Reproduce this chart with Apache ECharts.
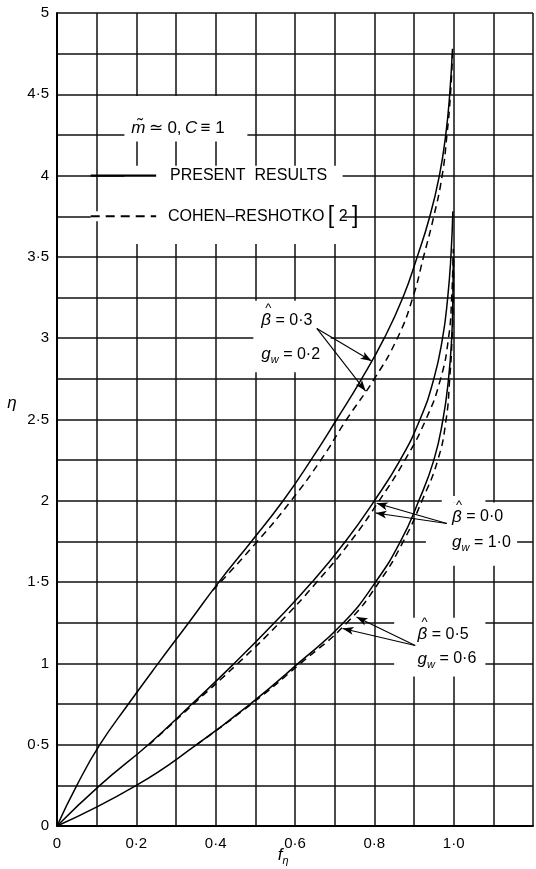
<!DOCTYPE html>
<html>
<head>
<meta charset="utf-8">
<script src="https://cdn.jsdelivr.net/npm/echarts@6/dist/echarts.min.js"></script>
<style>
html,body{margin:0;padding:0;background:#fff}
#chart{width:536px;height:869px}
</style>
</head>
<body>
<div id="chart"></div>
<script>
// velocity profiles f_eta(eta)
// beta=0.3, gw=0.2
var eta03 = [0, 0.25, 0.5, 0.75, 1.0, 1.25, 1.5, 1.75, 2.0, 2.25, 2.5, 2.75, 3.0, 3.25, 3.5, 3.75, 4.0, 4.25, 4.5, 4.78];
var present03 = [0, 0.05, 0.108, 0.18, 0.255, 0.332, 0.408, 0.49, 0.57, 0.64, 0.705, 0.768, 0.825, 0.872, 0.908, 0.94, 0.964, 0.98, 0.99, 0.997];
var etaCR03 = [1.45, 1.75, 2.0, 2.25, 2.5, 2.75, 3.0, 3.25, 3.5, 3.75, 4.0, 4.25, 4.5, 4.75];
var cohen03 = [0.393, 0.505, 0.59, 0.665, 0.73, 0.80, 0.858, 0.897, 0.924, 0.95, 0.971, 0.983, 0.992, 0.997];
// beta=0.0, gw=1.0
var eta00 = [0, 0.25, 0.5, 0.75, 1.0, 1.25, 1.5, 1.75, 2.0, 2.25, 2.5, 2.75, 3.0, 3.25, 3.5, 3.78];
var present00 = [0, 0.108, 0.23, 0.34, 0.447, 0.548, 0.643, 0.727, 0.80, 0.865, 0.915, 0.95, 0.972, 0.985, 0.993, 0.998];
var etaCR00 = [0.5, 0.75, 1.0, 1.25, 1.5, 1.75, 2.0, 2.25, 2.5, 2.75, 3.0, 3.25, 3.55];
var cohen00 = [0.232, 0.344, 0.456, 0.561, 0.655, 0.74, 0.812, 0.877, 0.93, 0.967, 0.987, 0.995, 0.999];
// beta=0.5, gw=0.6
var eta05 = [0, 0.25, 0.5, 0.75, 1.0, 1.25, 1.5, 1.75, 2.0, 2.25, 2.5, 2.75, 3.0, 3.25, 3.5];
var present05 = [0, 0.2, 0.352, 0.487, 0.608, 0.722, 0.803, 0.866, 0.912, 0.95, 0.973, 0.987, 0.995, 0.998, 0.999];
var etaCR05 = [0.5, 0.75, 1.0, 1.25, 1.5, 1.75, 2.0, 2.25, 2.5, 2.75, 3.0, 3.25, 3.5];
var cohen05 = [0.352, 0.49, 0.614, 0.731, 0.812, 0.873, 0.92, 0.96, 0.981, 0.99, 0.996, 0.999, 1.0];

var xTickLabels = ['0', '0·2', '0·4', '0·6', '0·8', '1·0'];
var yTickLabels = ['0', '0·5', '1', '1·5', '2', '2·5', '3', '3·5', '4', '4·5', '5'];

var FONT = '"Liberation Sans", Arial, sans-serif';

function pairs(f, eta) {
    return eta.map(function (e, i) { return [f[i], e]; });
}

var chart = echarts.init(document.getElementById('chart'));

function solid(name, data, extra) {
    var s = {
        type: 'line', name: name, data: data, showSymbol: false, smooth: 0.5,
        lineStyle: {color: '#000', width: 1.5, type: 'solid'}, z: 3
    };
    if (extra) s.markLine = extra;
    return s;
}
function dashed(name, data) {
    return {
        type: 'line', name: name, data: data, showSymbol: false, smooth: 0.5,
        lineStyle: {color: '#000', width: 1.5, type: [7, 5]}, z: 3
    };
}

// arrows from the labels to the curves
var arrows = {
    silent: true,
    symbol: ['none', 'arrow'],
    symbolSize: [6, 11],
    label: {show: false},
    lineStyle: {color: '#000', width: 1.1, type: 'solid'},
    data: [
        [{coord: [0.655, 3.06]}, {coord: [0.793, 2.86]}],
        [{coord: [0.655, 3.06]}, {coord: [0.778, 2.675]}],
        [{coord: [0.983, 1.86]}, {coord: [0.806, 1.985]}],
        [{coord: [0.983, 1.86]}, {coord: [0.803, 1.925]}],
        [{coord: [0.903, 1.11]}, {coord: [0.755, 1.285]}],
        [{coord: [0.903, 1.11]}, {coord: [0.72, 1.215]}]
    ]
};

var option = {
    animation: false,
    backgroundColor: '#fff',
    grid: {left: 57, right: -2, top: 13, bottom: 43},
    xAxis: {
        type: 'value', min: 0, max: 1.2, interval: 0.1,
        axisLine: {show: true, onZero: false, lineStyle: {color: '#000', width: 2}},
        axisTick: {show: false},
        splitLine: {show: true, lineStyle: {color: '#111', width: 1.5}},
        axisLabel: {
            margin: 10, color: '#000', fontFamily: FONT, fontSize: 15,
            formatter: function (v) {
                var k = Math.round(v * 10);
                return (k % 2 === 0 && k <= 10) ? xTickLabels[k / 2] : '';
            }
        }
    },
    yAxis: {
        type: 'value', min: 0, max: 5, interval: 0.25,
        axisLine: {show: true, onZero: false, lineStyle: {color: '#000', width: 2}},
        axisTick: {show: false},
        splitLine: {show: true, lineStyle: {color: '#111', width: 1.5}},
        axisLabel: {
            margin: 8, color: '#000', fontFamily: FONT, fontSize: 15,
            formatter: function (v) {
                var k = Math.round(v * 4);
                return k % 2 === 0 ? yTickLabels[k / 2] : '';
            }
        }
    },
    series: [
        solid('present 0.3', pairs(present03, eta03), arrows),
        dashed('cohen 0.3', pairs(cohen03, etaCR03)),
        solid('present 0.0', pairs(present00, eta00)),
        dashed('cohen 0.0', pairs(cohen00, etaCR00)),
        solid('present 0.5', pairs(present05, eta05)),
        dashed('cohen 0.5', pairs(cohen05, etaCR05))
    ]
};
chart.setOption(option);

function px(x, y) {
    return chart.convertToPixel({gridIndex: 0}, [x, y]);
}

// white patches where the original grid is blanked behind lettering
var blanks = [
    [0.17, 0.48, 4.21, 4.49],
    [0.17, 0.72, 3.58, 4.06],
    [0.085, 0.25, 3.72, 3.78],
    [0.495, 0.69, 2.79, 3.23],
    [0.93, 1.16, 1.6, 1.99],
    [0.97, 1.08, 1.99, 2.03],
    [0.85, 1.08, 0.92, 1.28]
];

var RICH = {
    n: {fontFamily: FONT, fontSize: 16, lineHeight: 22, fill: '#000'},
    m: {fontFamily: FONT, fontSize: 17, lineHeight: 22, fill: '#000'},
    i: {fontFamily: FONT, fontSize: 17, fontStyle: 'italic', lineHeight: 22, fill: '#000'},
    s: {fontFamily: FONT, fontSize: 11, fontStyle: 'italic', lineHeight: 22, verticalAlign: 'bottom', fill: '#000'},
    b: {fontFamily: FONT, fontSize: 23, lineHeight: 22, fill: '#000'}
};

function label(x, y, text) {
    var p = px(x, y);
    return {
        type: 'text', z: 10, x: p[0], y: p[1], silent: true,
        style: {text: text, rich: RICH, fill: '#000', verticalAlign: 'middle', align: 'left'}
    };
}
// circumflex over the beta
function hat(x, y) {
    var p = px(x, y);
    return {
        type: 'text', z: 10, x: p[0] + 7, y: p[1] - 12, silent: true,
        style: {text: '^', fontFamily: FONT, fontSize: 13, fill: '#000', align: 'center', verticalAlign: 'middle'}
    };
}

function buildGraphic() {
    var els = [];
    blanks.forEach(function (b) {
        var p0 = px(b[0], b[3]), p1 = px(b[1], b[2]);
        els.push({
            type: 'rect', z: 1, silent: true,
            shape: {x: p0[0], y: p0[1], width: p1[0] - p0[0], height: p1[1] - p0[1]},
            style: {fill: '#fff'}
        });
    });
    var a = px(0.085, 4.0), b = px(0.25, 4.0);
    els.push({type: 'line', z: 5, silent: true, shape: {x1: a[0], y1: a[1], x2: b[0], y2: b[1]},
        style: {stroke: '#000', lineWidth: 2.4}});
    a = px(0.085, 3.75); b = px(0.25, 3.75);
    els.push({type: 'line', z: 5, silent: true, shape: {x1: a[0], y1: a[1], x2: b[0], y2: b[1]},
        style: {stroke: '#000', lineWidth: 1.8, lineDash: [9, 6]}});

    els.push(label(0.187, 4.29, '{i|m̃} {m|≃ 0,} {i|C} {m|≡ 1}'));
    els.push(label(0.285, 4.0, '{n|PRESENT  RESULTS}'));
    els.push(label(0.28, 3.75, '{n|COHEN–RESHOTKO} {b|[}{n| 2 }{b|]}'));

    els.push(label(0.515, 3.11, '{i|β}{n| = 0·3}'));
    els.push(hat(0.515, 3.11));
    els.push(label(0.515, 2.90, '{i|g}{s|w}{n| = 0·2}'));
    els.push(label(0.996, 1.90, '{i|β}{n| = 0·0}'));
    els.push(hat(0.996, 1.90));
    els.push(label(0.996, 1.745, '{i|g}{s|w}{n| = 1·0}'));
    els.push(label(0.909, 1.18, '{i|β}{n| = 0·5}'));
    els.push(hat(0.909, 1.18));
    els.push(label(0.909, 1.027, '{i|g}{s|w}{n| = 0·6}'));

    // axis names
    var e = px(0, 2.6);
    els.push({type: 'text', z: 10, x: 12, y: e[1], silent: true,
        style: {text: 'η', fontFamily: FONT, fontSize: 17, fontStyle: 'italic', fill: '#000',
            align: 'center', verticalAlign: 'middle'}});
    var f = px(0.57, 0);
    els.push({type: 'text', z: 10, x: f[0], y: 855, silent: true,
        style: {text: '{i|f}{s|η}', rich: RICH, align: 'center', verticalAlign: 'middle', fill: '#000'}});
    return els;
}

chart.setOption({graphic: {elements: buildGraphic()}});

window.addEventListener('resize', function () {
    chart.resize();
    chart.setOption({graphic: {elements: buildGraphic()}}, {replaceMerge: ['graphic']});
});
</script>
</body>
</html>
